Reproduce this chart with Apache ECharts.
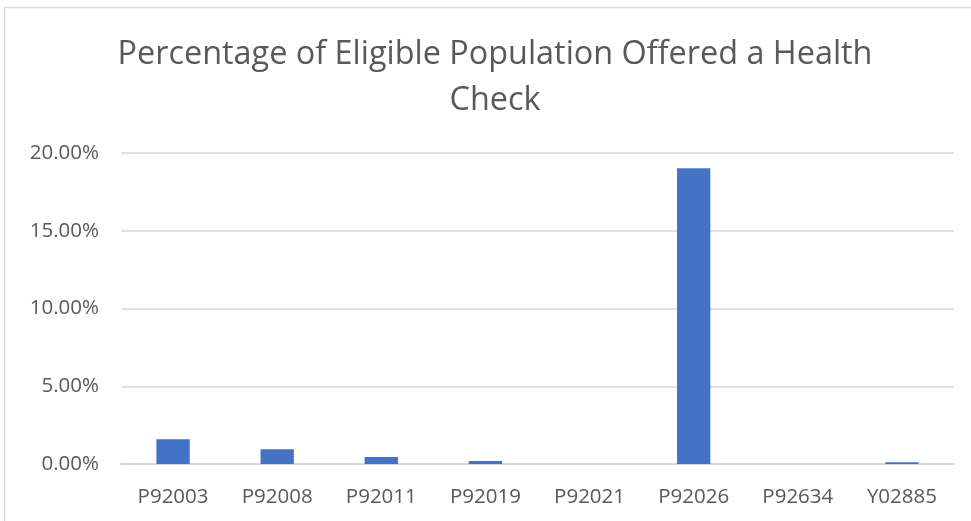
<!DOCTYPE html>
<html>
<head>
<meta charset="utf-8">
<script src="https://cdn.jsdelivr.net/npm/echarts@6/dist/echarts.min.js"></script>
<style>
html,body{margin:0;padding:0;background:#fff;}
#chart{width:971px;height:521px;}
</style>
</head>
<body>
<div id="chart"></div>
<script>
// Practice codes and the share of eligible patients offered a health check (%)
const practices = ['P92003', 'P92008', 'P92011', 'P92019', 'P92021', 'P92026', 'P92634', 'Y02885'];
const offeredPct = [1.59, 0.95, 0.45, 0.19, 0, 19.02, 0, 0.12];
const titleText = 'Percentage of Eligible Population Offered a Health\nCheck';

const FONT = '"Open Sans", "Noto Sans", sans-serif';
const TEXT = '#595959';

const chart = echarts.init(document.getElementById('chart'), null, { renderer: 'canvas' });
chart.setOption({
  backgroundColor: '#ffffff',
  animation: false,
  graphic: [{
    // chart-area frame
    type: 'rect',
    shape: { x: 4.5, y: 7.5, width: 1000, height: 600 },
    style: { fill: 'none', stroke: '#d9d9d9', lineWidth: 1.5 },
    silent: true
  }, {
    // two-line heading, centred over the plot area
    type: 'text',
    x: 495,
    y: 32,
    style: {
      text: titleText,
      fontFamily: FONT,
      fontSize: 32.4,
      fontWeight: 'normal',
      fill: TEXT,
      lineHeight: 46,
      align: 'center',
      verticalAlign: 'top'
    },
    silent: true
  }],
  grid: { left: 121, right: 17, top: 153, bottom: 57, containLabel: false },
  xAxis: {
    type: 'category',
    data: practices,
    axisLine: { lineStyle: { color: '#d9d9d9', width: 2 } },
    axisTick: { show: false },
    axisLabel: {
      fontFamily: FONT,
      fontSize: 20.5,
      color: TEXT,
      margin: 23
    }
  },
  yAxis: {
    type: 'value',
    min: 0,
    max: 20,
    interval: 5,
    axisLine: { show: false },
    axisTick: { show: false },
    splitLine: { lineStyle: { color: '#d9d9d9', width: 1.5 } },
    axisLabel: {
      fontFamily: FONT,
      fontSize: 20.5,
      color: TEXT,
      margin: 22,
      formatter: v => v.toFixed(2) + '%'
    }
  },
  series: [{
    type: 'bar',
    data: offeredPct,
    barWidth: '32%',
    itemStyle: { color: '#4472c4', borderWidth: 0 }
  }]
});
</script>
</body>
</html>
